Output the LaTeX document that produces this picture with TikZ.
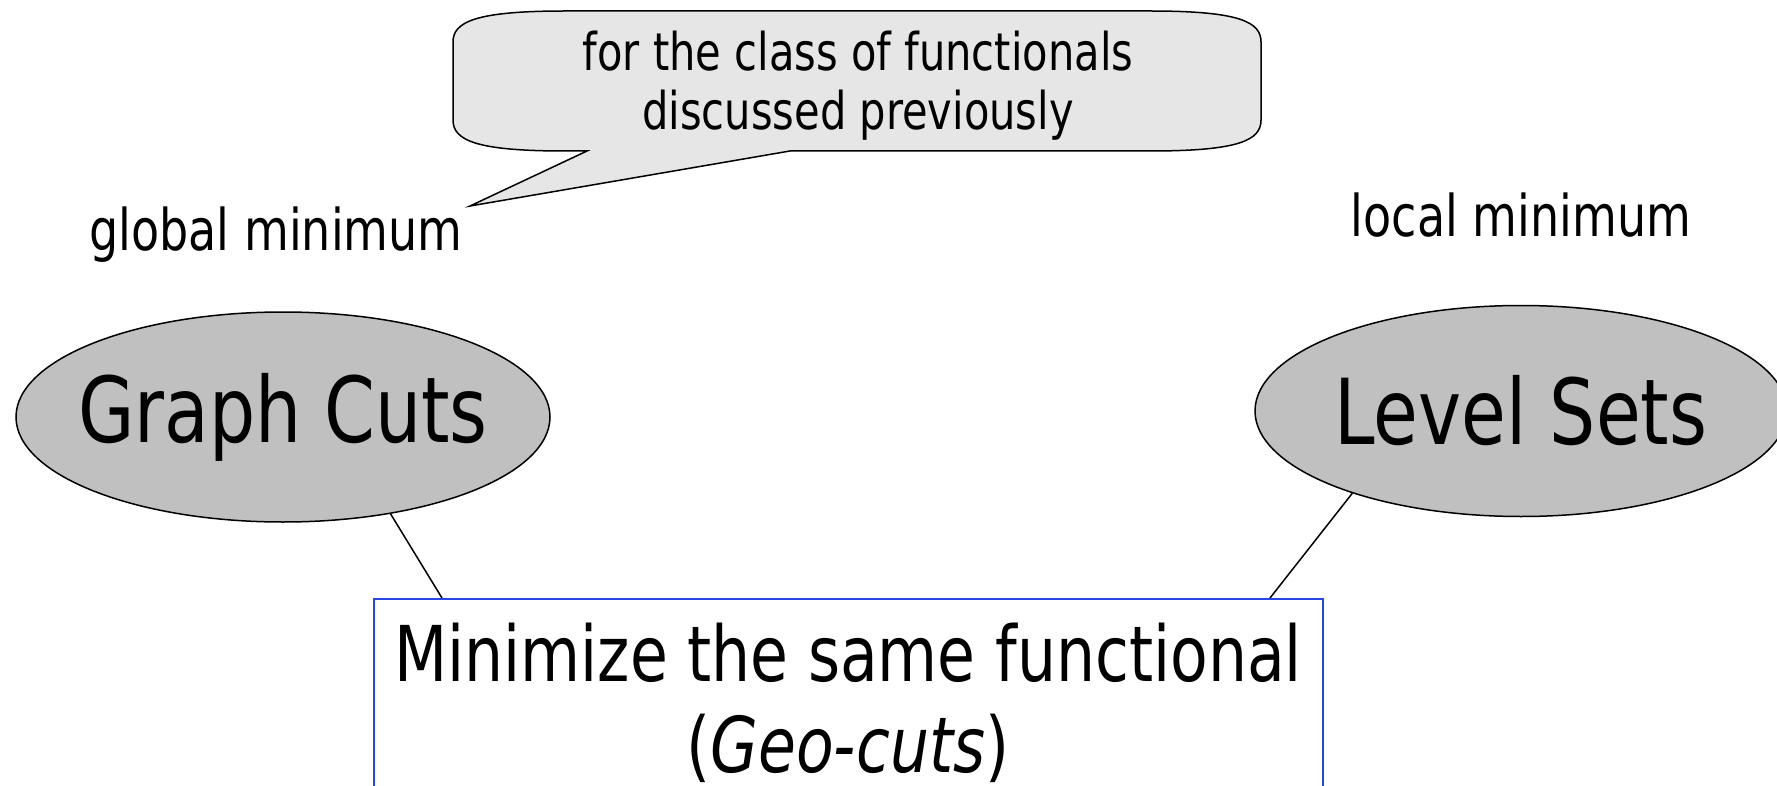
\documentclass[tikz,border=0pt]{standalone}
\usepackage{fontspec}
\setmainfont{DejaVu Sans}[FakeStretch=0.8]
\usetikzlibrary{shapes.geometric,calc}
\definecolor{calloutfill}{RGB}{230,230,230}
\definecolor{ellfill}{RGB}{192,192,192}
\definecolor{boxblue}{RGB}{40,70,230}
\tikzset{
  ellnode/.style={ellipse, draw=black, line width=1.5pt, fill=ellfill, minimum width=534pt, minimum height=210pt, inner sep=0pt},
  elltxt/.style={font=\fontsize{91}{100}\selectfont, inner sep=0pt},
  lbl/.style={font=\fontsize{57.5}{64}\selectfont, inner sep=0pt},
  callouttxt/.style={font=\fontsize{52}{59}\selectfont, align=center, inner sep=0pt},
  boxst/.style={draw=boxblue, line width=2pt, minimum width=949pt, minimum height=260pt, anchor=north, inner sep=0pt},
  boxtxt/.style={font=\fontsize{77}{91}\selectfont, align=center, inner sep=0pt},
  conn/.style={draw=black, line width=1.5pt}
}
\begin{document}
\begin{tikzpicture}[x=1pt,y=-1pt]
\useasboundingbox (0,0) rectangle (1777,786);
\clip (0,0) rectangle (1777,786);
% callout
\draw[line width=1.5pt, fill=calloutfill, line join=miter]
  (587,151) -- (470,206) -- (790,151) -- (1150,151)
  .. controls (1240,151) and (1261,140) .. (1261,120) -- (1261,42)
  .. controls (1261,22) and (1240,11) .. (1150,11) -- (565,11)
  .. controls (475,11) and (453,22) .. (453,42) -- (453,120)
  .. controls (453,140) and (475,151) .. (565,151) -- cycle;
\node[callouttxt] (callout) at (858,86) {for the class of functionals\\discussed previously};
% labels
\node[lbl] (glob) at (276,235) {global minimum};
\node[lbl] (loc) at (1521,215) {local minimum};
% ellipses
\node[ellnode] (gc) at (283,417) {};
\node[elltxt] (gctext) at (gc.center) {Graph Cuts};
\node[ellnode, minimum width=532pt, minimum height=211pt] (ls) at (1521,411) {};
\node[elltxt] (lstext) at (ls.center) {Level Sets};
% box
\node[boxst] (box) at (848.5,598) {};
\node[boxtxt] (boxtext) at (848,703) {Minimize the same functional\\(\textit{Geo-cuts})};
% connectors
\coordinate (gcend) at (442,598);
\coordinate (lsend) at (1270,598);
\draw[conn] (gc.-42) -- (gcend);
\draw[conn] (ls.-154) -- (lsend);
\end{tikzpicture}
\end{document}
